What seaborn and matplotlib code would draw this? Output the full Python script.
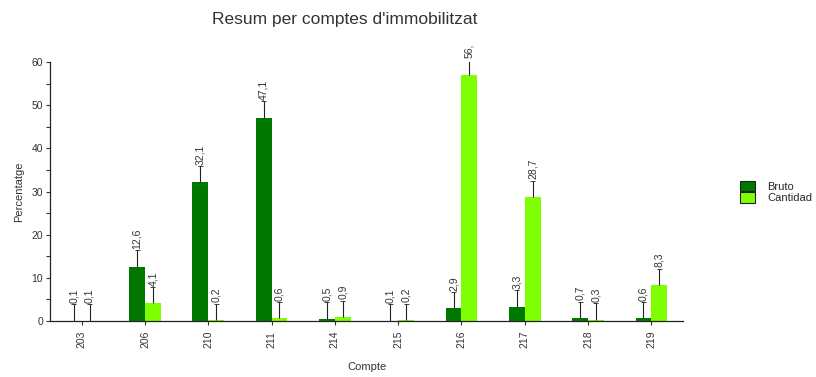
import matplotlib
matplotlib.use("Agg")
import matplotlib.pyplot as plt
import seaborn as sns
import pandas as pd
import numpy as np
from matplotlib.patches import Patch

comptes = ["203", "206", "210", "211", "214", "215", "216", "217", "218", "219"]
bruto = [0.1, 12.6, 32.1, 47.1, 0.5, 0.1, 2.9, 3.3, 0.7, 0.6]
cantidad = [0.1, 4.1, 0.2, 0.6, 0.9, 0.2, 56.9, 28.7, 0.3, 8.3]
bruto_labels = ["0,1", "12,6", "32,1", "47,1", "0,5", "0,1", "2,9", "3,3", "0,7", "0,6"]
cantidad_labels = ["0,1", "4,1", "0,2", "0,6", "0,9", "0,2", "56,", "28,7", "0,3", "8,3"]
series = ["Bruto", "Cantidad"]
colors = ["#007800", "#80ff00"]

df = pd.DataFrame({
    "Compte": comptes * 2,
    "Percentatge": bruto + cantidad,
    "Serie": [series[0]] * len(comptes) + [series[1]] * len(comptes),
})

sns.set_style("white")
plt.rcParams["font.family"] = ["Liberation Sans", "DejaVu Sans"]

fig = plt.figure(figsize=(8.16, 3.77), dpi=100)
ax = fig.add_axes([50 / 816, 1 - 321 / 377, 633 / 816, 259 / 377])

sns.barplot(data=df, x="Compte", y="Percentatge", hue="Serie", order=comptes,
            hue_order=series, palette=colors, saturation=1, width=0.5, ax=ax,
            legend=False, edgecolor="none", linewidth=0)

ax.set_xlim(-0.5, len(comptes) - 0.5)
ax.set_ylim(0, 60)
ax.set_yticks(np.arange(0, 61, 10))
ax.set_yticks(np.arange(0, 61, 5), minor=True)
ax.tick_params(axis="y", which="both", direction="out", left=True, length=3,
               width=0.8, color="#333333", labelsize=7.5, labelcolor="#333333", pad=2)
ax.tick_params(axis="x", direction="out", bottom=True, length=3, width=0.8,
               color="#333333", labelsize=7.5, labelcolor="#333333", labelrotation=90, pad=4)
for s in ["top", "right"]:
    ax.spines[s].set_visible(False)
for s in ["left", "bottom"]:
    ax.spines[s].set_color("#222222")
    ax.spines[s].set_linewidth(0.9)

ax.set_xlabel("Compte", fontsize=8, color="#333333", labelpad=10)
ax.set_ylabel("Percentatge", fontsize=8, color="#333333", labelpad=5)
fig.text(0.423, 0.948, "Resum per comptes d'immobilitzat", ha="center", va="center",
         fontsize=12.5, color="#333333")

# leader lines and value labels
offsets = [-0.125, 0.125]
lead = 3.8
for vals, labs, off in [(bruto, bruto_labels, offsets[0]), (cantidad, cantidad_labels, offsets[1])]:
    for i, (v, lab) in enumerate(zip(vals, labs)):
        ax.vlines(i + off, v, v + lead, color="#222222", linewidth=0.8)
        ax.hlines(v + lead, i + off - 0.04, i + off + 0.04, color="#222222", linewidth=0.6)
        ax.text(i + off, v + lead + 0.3, lab, rotation=90, ha="center", va="bottom",
                fontsize=7.5, color="#333333", clip_on=False)

handles = [Patch(facecolor=c, edgecolor="#222222", linewidth=0.8) for c in colors]
fig.legend(handles, series, loc="center left", bbox_to_anchor=(734 / 816, 1 - 192 / 377),
           frameon=False, fontsize=8, handlelength=1.4, handleheight=1.05,
           handletextpad=1.1, labelspacing=0.05, borderpad=0)

fig.savefig("out.png", dpi=100, facecolor="white")
